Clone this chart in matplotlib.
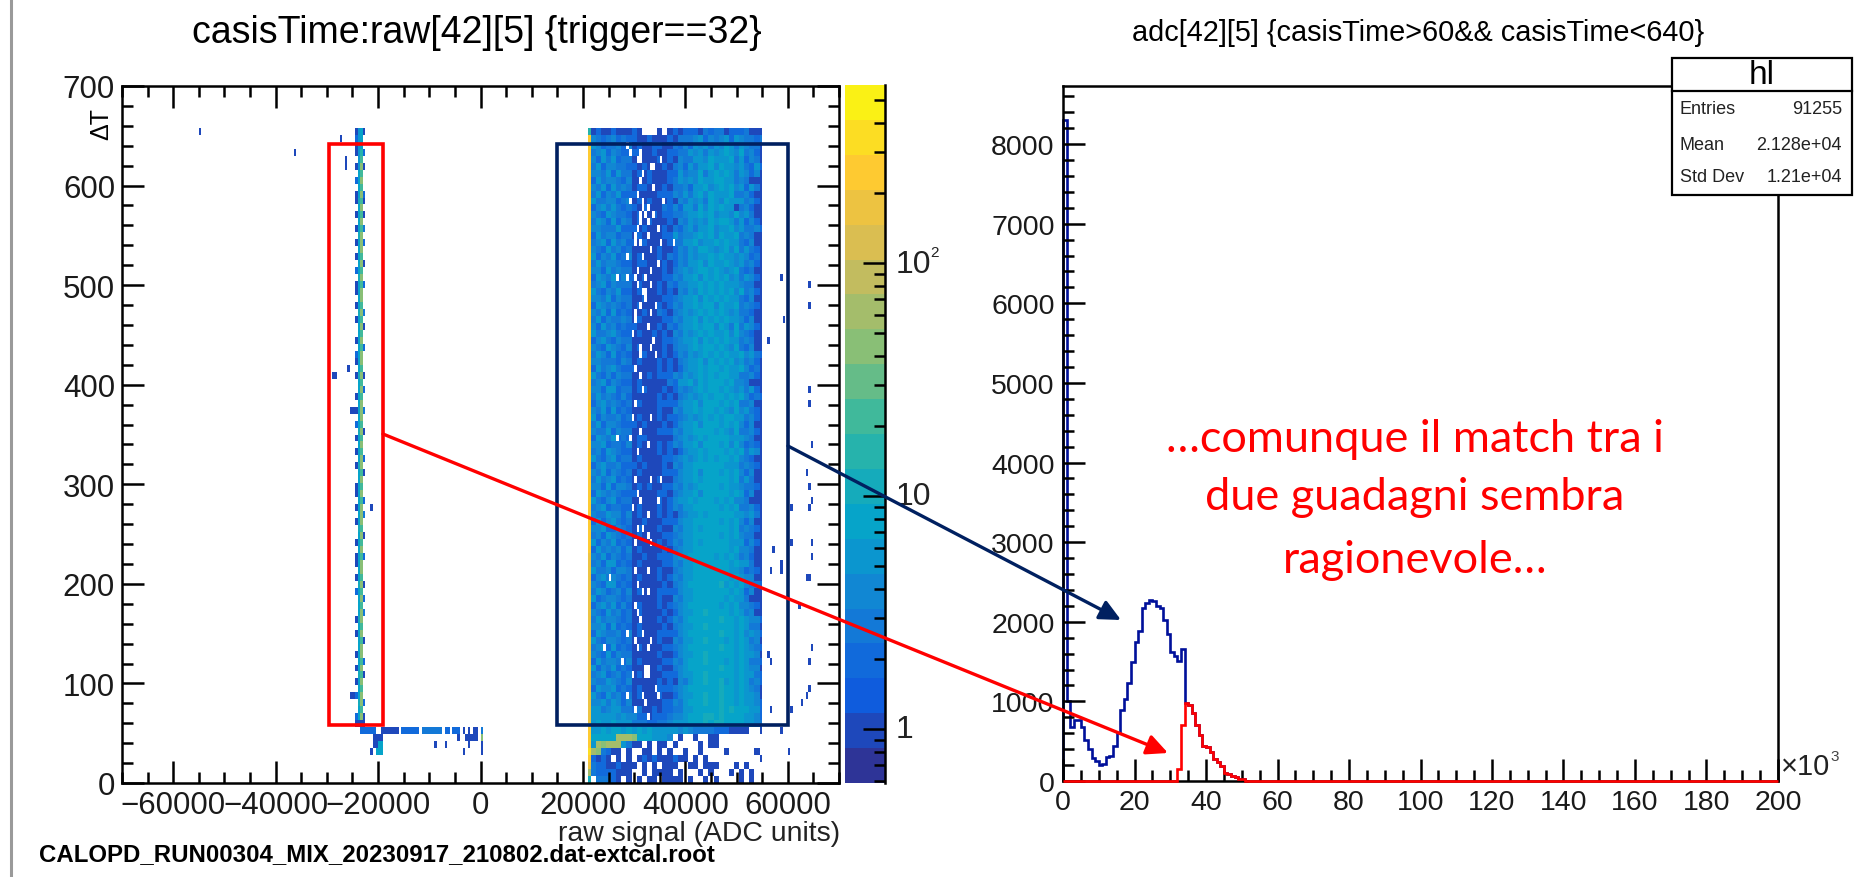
import numpy as np
import matplotlib
matplotlib.use("Agg")
import matplotlib.pyplot as plt
from matplotlib.colors import LinearSegmentedColormap, BoundaryNorm, ListedColormap
from matplotlib.patches import Rectangle
from matplotlib.ticker import MultipleLocator, FixedLocator, NullFormatter

W, H_PX = 1873, 878
plt.rcParams['font.family'] = ['Liberation Sans', 'DejaVu Sans']

# ---------- data: left 2D histogram ----------
COUNT = {'.': 0, '1': 1, '2': 2, '3': 3, '4': 4, '5': 5, '6': 6, '7': 7, '8': 8, '9': 9,
         'a': 12, 'b': 16, 'c': 25, 'd': 40, 'e': 70, 'f': 150, 'g': 250, 'h': 400}

# top row of the main block keeps its wide gaps
top_row = "1211211121...1.1212221323312223111"
# main block below it (y 644-651 downwards), each character = 1000 ADC from x=21500
block_rows = [
    "3212312121121112133345243452543323",
    "4312231312112211324254636475364331",
    "2341321122112112233546364586473421",
    "3152412213111212143365475667352431",
    "2413322121211121342536574856463252",
    "3324142212121112253447368575364241",
    "1423321311121112354647568756343111",
    "3241523212211121334265746958462531",
    "2513241121111222435367485657334211",
    "4223312312121112143546386475653421",
    "1342421221211132426537495856134211",
    "3214322112112122334568574664745311",
    "2431513212121112143546475895362421",
    "3322241121211121324536684657463342",
    "1523312212111122534468574765834311",
    "2341423121211112336574669585632411",
    "3214231211111211243548754674735321",
    "4132412312111213243546695856464231",
    "2423321112211121243657486575463421",
    "3314232211111121345467958645732311",
    "1432413121211122435684769574635421",
    "2341322212111213244557685865643311",
    "4213241112111212143647595768473421",
    "3324132211211122345684768695632411",
    "1432321212111212435576974765834321",
    "3241412111211321346468586754633211",
    "2413223212111122435684769685642411",
    "3152312121111213245576984763735421",
    "4223421112112121436468595674843211",
    "1342132211111122345684769585634311",
    "3214321312111121344576985764732411",
    "2431412111211121243646859675584532",
    "3322213212111212134568476968463421",
    "1423421121111212124557697586574231",
    "4213132211121222436468586795633421",
    "2341321112111113256847697758443111",
    "3314412212211121243457698576463521",
    "2423213111111212134646859868574232",
    "1342321212111222245684779575833411",
    "3241412111111211435576986764845321",
    "4132231212111212234646869578563421",
    "2413321121211121245684779685742411",
    "3224132211111222435577985764833421",
    "1432412112211111346468598775654311",
    "3341221312111212435684779684842321",
    "2314321111111212124657698867573541",
    "4213412212111122345468695785843211",
    "1342231121211121436577889765634321",
    "3241321212111122245684798686742411",
    "2423412111111211346576987785835311",
    "3314133212121122435468799675643321",
    "1432321121111221346684788786852411",
    "4213412211111212455769976857443111",
    "2341221112111212436578889675833421",
    "3224331312111212134568689778664531",
    "1413421211211122246578988675742411",
    "3341132112111211435686998786834321",
    "2314321212111122346578997685743311",
    "4132412111111212435686889776652421",
    "1423231312111121346678998785844311",
    "3241321211211222456878996867534211",
    "2314412112111122436588997786855311",
    "4223133211111211346678989786642321",
    "1342321212111212435687998775854411",
    "3214412111111121346778988a68674332",
    "2431231312111222245688997786852411",
    "4123321211111211436679887758653111",
    "1342413112111212345788999686744321",
    "3214231212111121246688a97786853411",
    "2423321211111212435788999a77586442",
    "3341412112111121346688a99878675331",
    "1432231312111222245788999a78684542",
    "4213321211111211436688a98968686341",
    "2341412112111122346788999a77585432",
    "3214132211111211246688a99878686541",
    "1423321312111122435788a98968675332",
    "4132412111111211346788999a78686441",
    "2341231212111122246688a99878586532",
    "3224321311111212143578a98a68675342",
    "1433412112111222346788999a78686431",
    "4214231212111211246688a98a78685541",
    "3342431311111122436788a99a88676542",
    "4423542223112122335578899a9a887652",
    "5544534342212223446789aa9a98876642",
    "5655654433322334556789a9aa98876543",
]
# sparse rows from y 49-56 down to y 0-7
low_rows = [
    "6676876767675656545433332221111..1",
    "77899eeed9876654.1..1..11.........",
    "6edeee6311.1.11.1....1.11.........",
    "ed3211.1..11.1.1..1..1....1.....1.",
    "2121.1.1.1212111211.1.1..........1",
    "322112111.1.1.111..11.111...1.1...",
    "32222111..1.1111.1...1.1...1.1.1..",
    ".33321.1.1.11.1111.1..1.1....1.1..",
]
# empty cells inside the block
gap_x = [28500, 29300, 31300, 31300, 30600, 35400, 33000, 33700, 31800, 31000, 33700, 30600, 29300,
         31500, 35800, 31500, 32600, 31100, 32300, 33700, 31100, 32800, 30800, 34900, 30200, 32600,
         30200, 31100, 35400, 37800, 33000, 28500, 31800, 34900, 30800, 33100, 26900, 28500, 30000,
         32100, 30800, 33100, 32400, 31500, 32100, 31100, 34100, 30400, 33000,
         30100, 32500, 29700, 33500, 31000, 33200, 31000, 34000, 30100, 31100, 31600, 30100, 29600,
         33100, 31100, 26700, 29200, 32600, 30600,
         30000, 33400, 35100, 30600, 31200, 34500, 29500, 32800, 30600, 31700, 30000, 32800, 33400,
         25000, 30000, 32800, 30600, 31700, 32800, 30000, 30600, 31200, 28900, 31700, 30000, 33400,
         30600, 32800, 24400, 27800, 32800, 29500, 34000, 28900, 31700, 34500, 32300, 30000, 32800,
         32300, 32300, 32800]
gap_y = [638, 631, 634, 627, 624, 624, 617, 617, 611, 602, 597, 589, 582,
         582, 582, 576, 576, 567, 567, 567, 561, 561, 554, 555, 547, 547,
         541, 541, 541, 541, 534, 527, 527, 519, 512, 512, 506, 506, 506,
         506, 498, 498, 492, 492, 486, 477, 477, 471, 471,
         466, 459, 452, 445, 440, 434, 429, 429, 417, 407, 394, 381, 366,
         366, 356, 344, 344, 341, 332,
         301, 301, 301, 291, 281, 282, 274, 272, 256, 254, 241, 247, 244,
         207, 212, 211, 201, 194, 191, 181, 171, 162, 151, 151, 144, 144,
         136, 136, 136, 122, 116, 111, 97, 87, 87, 87, 81, 74, 66,
         116, 109, 109]

# yellow edge bin at x=21000-21500, same row order (y 651-658 down to y 0-7)
edge_row = "b" + "g" * 60 + "f" * 25 + "ggghgfea"

# left strip at -24500, -24000, -23500 and -23000, rows y 651-658 down to y 56-63
strip_edge = "1211.1.2.11.1.1.1.1.2.11.1.1..1.21.1..1.1.2.1.1.1..11.1.1..1.11.1.2...1.1..1.1.1.2..2.1."[:86]
strip_core = "5566658988a8989a89888a9899a88989889a9888989a8898a98989889a9889898a9888a9898889a989a98898"[:86]
strip_mid = "9" * 3 + "bcdcdcdcdcdcdddcdcdcddcdcdcdcddcdcdcdddcdcdcddcdcdcdddcdcdcddcdcdcddcdcddcdcdcddcdc"
strip_right = "1..2.1...2..1.3.2..1..2...3.1..2...1.2..3..1...2.1...2.3..1..2...1.2.3...1..2.1...2.1.2"[:86]

# segments of the low band near the strip: y, x from, x to, count
seg_y = [56, 49, 49, 49, 49, 49, 49, 49, 49, 49, 49, 49, 42, 42, 42, 42, 42, 35, 35, 28, 28, 84]
seg_x0 = [-24500, -23500, -19500, -15500, -11500, -7000, -5500, -3500, -2500, -1500, -1000, 0,
          -21000, -4500, -3000, -2500, 0, -21000, -20000, -21500, -20500, -25500]
seg_x1 = [-22500, -20500, -16000, -12000, -7500, -6000, -4000, -3000, -2000, -1000, -500, 500,
          -19000, -4000, -500, -2000, 500, -20000, -19000, -21000, -19000, -24500]
seg_n = [1, 2, 1, 2, 3, 2, 2, 1, 1, 1, 1, 3, 1, 1, 1, 1, 40, 1, 8, 1, 9, 1]

# isolated single cells
stray_x = [-55000, -27400, -36300, -26400, -26400, -23000, -28200, -26000, -25500, -24900, -21300,
           -29000, -3500, -8700, -6600, -2500, 0, 0,
           58700, 64400, 64400, 59300, 56000, 64400, 64400, 64700, 63900, 64100, 64700, 60600, 64400,
           60600, 64700, 64700, 57300, 58900, 56900, 58500, 63600, 64200, 62400, 64700, 64100, 56300,
           56900, 64100, 63600, 62800, 56900, 60600, 58500, 53800, 60000, 54800]
stray_y = [652, 645, 631, 628, 621, 586, 408, 415, 373, 373, 275,
           410, 28, 35, 35, 35, 35, 28,
           506, 498, 477, 464, 443, 394, 380, 337, 311, 296, 282, 275, 275,
           241, 241, 229, 234, 221, 212, 212, 207, 207, 179, 137, 122, 130,
           122, 96, 87, 80, 74, 74, 51, 31, 31, 25]

# ---------- data: right histogram (1000 ADC bins, x in units of 1000) ----------
blue_vals = [8300, 1000, 680, 770, 770, 680, 520, 400, 285, 255, 200, 215, 300, 320, 445, 600, 890,
             1030, 1225, 1500, 1745, 1880, 2170, 2235, 2275, 2255, 2200, 2170, 2020, 1850, 1620,
             1575, 1510, 1660]
red_vals = [0] * 32 + [150, 700, 980, 960, 850, 700, 575, 445, 425, 360, 275, 235, 190, 105, 85, 65,
                       55, 20, 20, 5]
hist_edges = np.arange(0, 201)

x_ticks_left = [-60000, -40000, -20000, 0, 20000, 40000, 60000]
y_ticks_left = [0, 100, 200, 300, 400, 500, 600, 700]
x_ticks_right = [0, 20, 40, 60, 80, 100, 120, 140, 160, 180, 200]
y_ticks_right = [0, 1000, 2000, 3000, 4000, 5000, 6000, 7000, 8000]
stats_names = ["Entries", "Mean", "Std Dev"]
stats_vals = ["91255", "2.128e+04", "1.21e+04"]
note_lines = ["…comunque il match tra i", "due guadagni sembra", "ragionevole…"]

# ---------- build the histogram grid ----------
x_edges = np.arange(-70000, 70001, 500)
y_edges = np.arange(0, 701, 7)
Z = np.zeros((len(y_edges) - 1, len(x_edges) - 1))


def ix(x):
    return int((x + 70000) // 500)


all_rows = [top_row] + block_rows + low_rows
n_block = len(block_rows) + 1
for r, row in enumerate(all_rows):
    b = 93 - r if r < n_block else 7 - (r - n_block)
    row = row.ljust(34, '.')[:34]
    for c, ch in enumerate(row):
        n = COUNT[ch]
        if 0 < r < n_block and c < 8:
            n += 1  # left flank of the block reads one step lighter than typed
        Z[b, ix(21500) + 2 * c] = n
        if c < 33:
            Z[b, ix(21500) + 2 * c + 1] = n
for x, y in zip(gap_x, gap_y):
    Z[y // 7, ix(x)] = 0
for r, ch in enumerate(edge_row[:94]):
    Z[93 - r, ix(21000)] = COUNT[ch]
for xpos, s in ((-24500, strip_edge), (-24000, strip_core), (-23500, strip_mid), (-23000, strip_right)):
    for r, ch in enumerate(s[:86]):
        Z[93 - r, ix(xpos)] = COUNT[ch]
for y, a, e, n in zip(seg_y, seg_x0, seg_x1, seg_n):
    Z[y // 7, ix(a):ix(e)] = n
for x, y in zip(stray_x, stray_y):
    Z[y // 7, ix(x)] = 1

# ROOT bird palette, 20 log-spaced contours
bird = np.array([[0.2082, 0.1664, 0.5293], [0.0592, 0.3599, 0.8684], [0.0780, 0.5041, 0.8385],
                 [0.0232, 0.6419, 0.7914], [0.1802, 0.7178, 0.6425], [0.5301, 0.7492, 0.4662],
                 [0.8186, 0.7328, 0.3499], [0.9956, 0.7862, 0.1968], [0.9764, 0.9832, 0.0539]])
cmap_base = LinearSegmentedColormap.from_list("bird", bird)
n_bands = 20
cmap = ListedColormap(cmap_base((np.arange(n_bands) + 0.5) / n_bands))
z_lo, z_hi = 0.587, 581
levels = np.logspace(np.log10(z_lo), np.log10(z_hi), n_bands + 1)
norm = BoundaryNorm(levels, n_bands)

# ---------- figure ----------
fig = plt.figure(figsize=(W / 100, H_PX / 100), dpi=100)


def axes_px(x0, y0, x1, y1):
    return fig.add_axes([x0 / W, 1 - y1 / H_PX, (x1 - x0) / W, (y1 - y0) / H_PX])


LW = 1.8
MAJ, MIN = 15.8, 7.9

axL = axes_px(122, 87, 839, 784)
axL.pcolormesh(x_edges, y_edges, np.ma.masked_equal(Z, 0), cmap=cmap, norm=norm, rasterized=True)
axL.set_xlim(-70000, 70000)
axL.set_ylim(0, 700)
axL.set_xticks(x_ticks_left)
axL.set_xticklabels(['\u2212' + str(abs(v)) if v < 0 else str(v) for v in x_ticks_left])
axL.set_yticks(y_ticks_left)
axL.xaxis.set_minor_locator(MultipleLocator(5000))
axL.yaxis.set_minor_locator(MultipleLocator(20))
axL.tick_params(which='major', direction='in', length=MAJ, width=LW, top=True, right=True,
                labelsize=22.5, pad=5, labelcolor='#1a1a1a')
axL.tick_params(which='minor', direction='in', length=MIN, width=LW, top=True, right=True)
for s in axL.spines.values():
    s.set_linewidth(LW)

# colour bar
cax = axes_px(845, 86, 885, 784)
cax.pcolormesh([0, 1], levels, np.arange(n_bands).reshape(-1, 1), cmap=cmap,
               norm=BoundaryNorm(np.arange(n_bands + 1) - 0.5, n_bands))
cax.set_yscale('log')
cax.set_ylim(z_lo, z_hi)
cax.set_xlim(0, 1)
cax.set_xticks([])
cax.yaxis.tick_right()
cax.yaxis.set_major_locator(FixedLocator([1, 10, 100]))
cax.yaxis.set_minor_locator(FixedLocator([.6, .7, .8, .9, 2, 3, 4, 5, 6, 7, 8, 9,
                                          20, 30, 40, 50, 60, 70, 80, 90, 200, 300, 400, 500]))
cax.yaxis.set_minor_formatter(NullFormatter())
cax.yaxis.set_major_formatter(NullFormatter())
cax.tick_params(which='major', axis='y', direction='in', length=MAJ, width=LW)
cax.tick_params(which='minor', axis='y', direction='in', length=MIN, width=LW)
for k, s in cax.spines.items():
    s.set_visible(k == 'right')
    s.set_linewidth(LW)

# right histogram
axR = axes_px(1063, 87, 1778, 782)
axR.stairs(blue_vals + red_vals[34:], hist_edges[:53], color='#00109a', linewidth=1.9, baseline=0, clip_on=False)
axR.stairs(red_vals + [0] * (200 - len(red_vals)), hist_edges, color='#ff0000', linewidth=1.9,
           baseline=0, clip_on=False, zorder=3)
axR.set_xlim(0, 200)
axR.set_ylim(0, 8730)
axR.set_xticks(x_ticks_right)
axR.set_yticks(y_ticks_right)
axR.xaxis.set_minor_locator(MultipleLocator(5))
axR.yaxis.set_minor_locator(MultipleLocator(200))
axR.tick_params(which='major', direction='in', length=MAJ, width=LW, labelsize=20.5, pad=6,
                labelcolor='#1a1a1a')
axR.tick_params(which='minor', direction='in', length=MIN, width=LW)
for s in axR.spines.values():
    s.set_linewidth(LW)

# pixel overlay for titles, notes, boxes and arrows
ov = fig.add_axes([0, 0, 1, 1], zorder=10)
ov.set_xlim(0, W)
ov.set_ylim(H_PX, 0)
ov.axis('off')
ov.patch.set_alpha(0)

ov.plot([11.5, 11.5], [0, H_PX], color='#9a9a9a', lw=2.2)
ov.text(477, 33, "casisTime:raw[42][5] {trigger==32}", fontsize=27, ha='center', va='center')
ov.text(1418, 33, "adc[42][5] {casisTime>60&& casisTime<640}", fontsize=20.8, ha='center', va='center')
ov.text(840, 834, "raw signal (ADC units)", fontsize=20.4, ha='right', va='center', color='#222222')
ov.text(39, 855, "CALOPD_RUN00304_MIX_20230917_210802.dat-extcal.root", fontsize=17.3, fontweight='bold',
        ha='left', va='center')
ov.text(101, 124, "\u0394T", fontsize=18, rotation=90, ha='center', va='center')
ov.text(896, 265, "10", fontsize=23, ha='left', va='center', color='#222222')
ov.text(930, 253, "2", fontsize=11, ha='left', va='center', color='#222222')
ov.text(896, 497, "10", fontsize=23, ha='left', va='center', color='#222222')
ov.text(896, 730, "1", fontsize=23, ha='left', va='center', color='#222222')
ov.text(1781, 767, "\u00d710", fontsize=21, ha='left', va='center', color='#222222')
ov.text(1830, 757, "3", fontsize=11, ha='left', va='center', color='#444444')

# stats box
ov.add_patch(Rectangle((1672, 59), 180, 137, fc='white', ec='black', lw=1.6, zorder=5))
ov.plot([1672, 1852], [92, 92], color='black', lw=1.6, zorder=6)
ov.text(1762, 75, "hl", fontsize=24, ha='center', va='center', zorder=6)
for yy, nm, vv in zip([110, 146, 178], stats_names, stats_vals):
    ov.text(1680, yy, nm, fontsize=13, ha='left', va='center', zorder=6, color='#222222')
    ov.text(1842, yy, vv, fontsize=13, ha='right', va='center', zorder=6, color='#222222')

# boxes and arrows
RED, NAVY = '#ff0000', '#002060'
ov.add_patch(Rectangle((329, 145), 54.5, 581, fc='none', ec=RED, lw=2.6))
ov.add_patch(Rectangle((557, 145), 231, 581, fc='none', ec=NAVY, lw=2.6))
for (a, b, col) in [((383, 435), (1168, 754), RED), ((788, 447), (1121, 621), NAVY)]:
    ov.annotate('', xy=b, xytext=a, arrowprops=dict(arrowstyle='-|>,head_length=0.75,head_width=0.36',
                                                    mutation_scale=17, color=col, lw=2.4,
                                                    shrinkA=0, shrinkB=0))
for yy, line in zip([440, 498, 561], note_lines):
    ov.text(1415, yy, line, fontsize=32.5, color='#ff0000', ha='center', va='center',
            family=['Lato', 'DejaVu Sans'])

fig.savefig('out.png', dpi=100, facecolor='white')
